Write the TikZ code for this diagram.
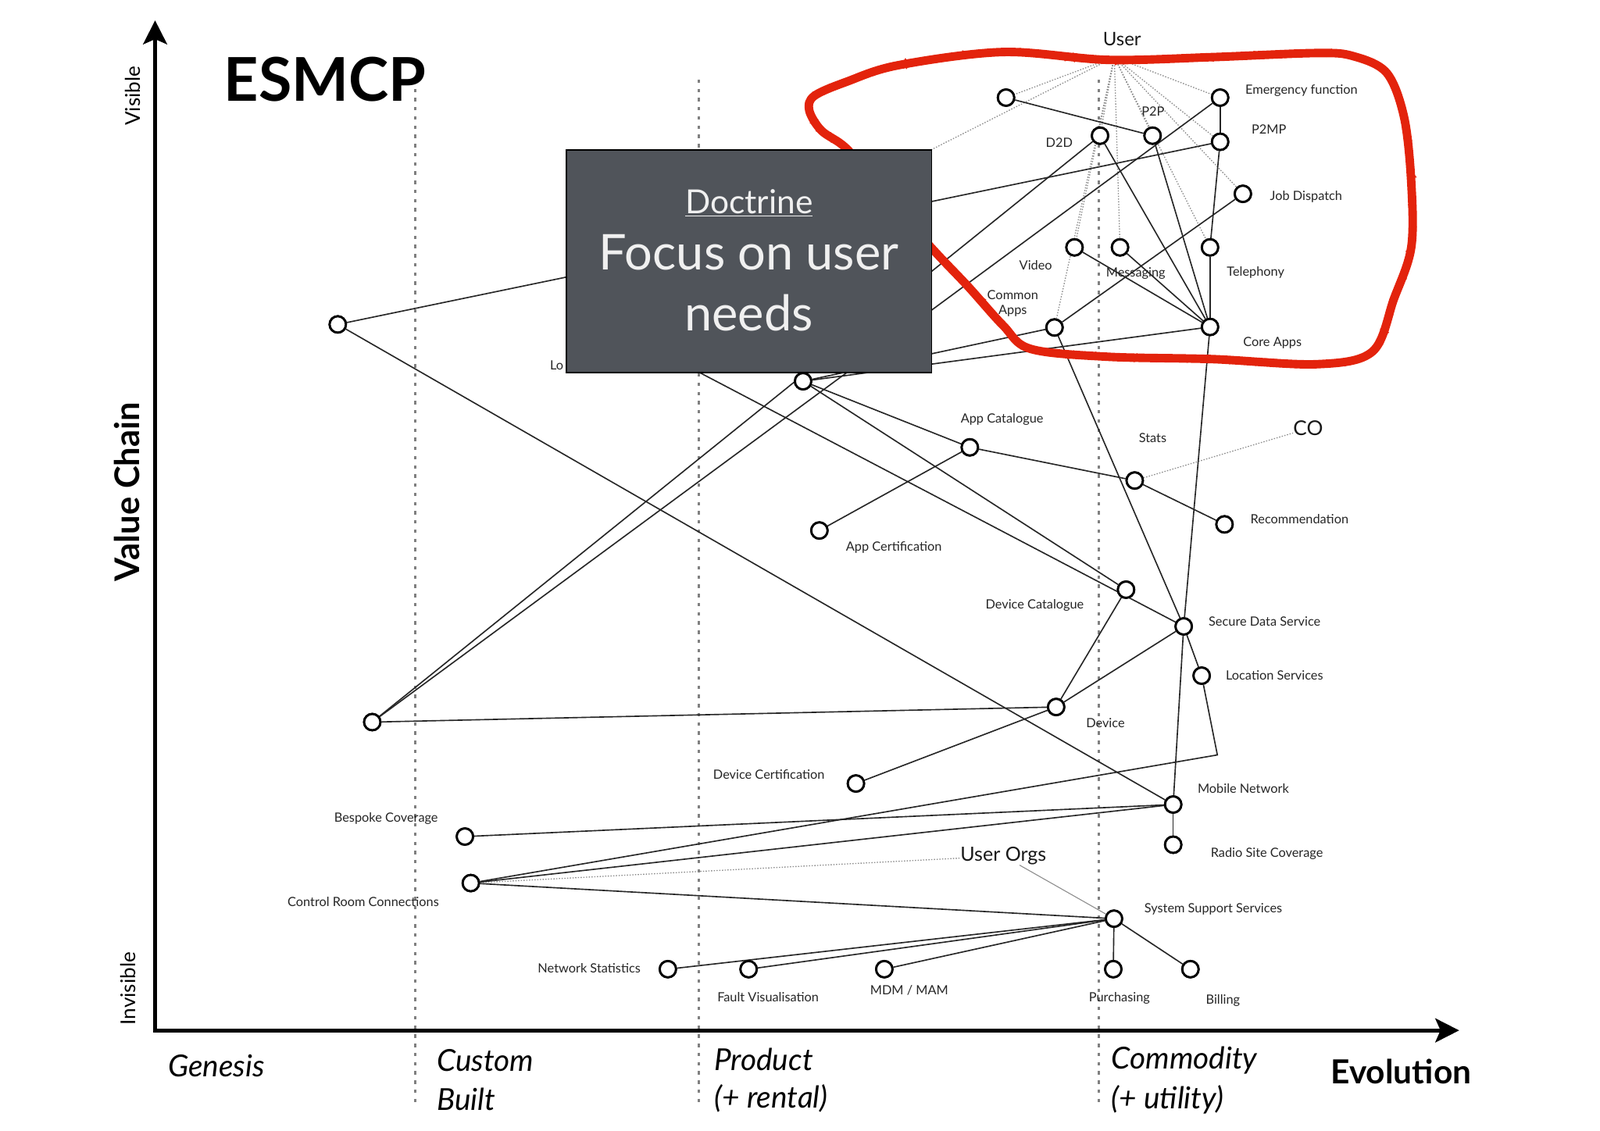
\documentclass[tikz,border=0pt]{standalone}
\usepackage{fontspec}
\setmainfont{Lato}
\usetikzlibrary{arrows.meta,decorations.pathmorphing}
\definecolor{boxgray}{HTML}{50545A}
\definecolor{loopred}{HTML}{E3230C}
\begin{document}
\begin{tikzpicture}[x=0.6pt,y=-0.6pt,
  dot/.style={circle,draw=black,line width=1.3pt,fill=white,minimum size=9.6pt,inner sep=0pt},
  edge/.style={draw=black!85,line width=0.75pt},
  udot/.style={draw=black!45,line width=0.6pt,dash pattern=on 0.7pt off 0.9pt},
  evo/.style={draw=black!50,line width=1.2pt,dash pattern=on 2pt off 3.4pt},
  lbl/.style={font=\fontsize{7.5}{8.5}\selectfont,text=black!85,inner sep=0pt},
  mid/.style={font=\fontsize{11.5}{13}\selectfont,text=black!90,inner sep=0pt},
  stage/.style={font=\fontsize{17.8}{19}\selectfont\itshape,text=black,inner sep=0pt,anchor=west},
  axislbl/.style={font=\fontsize{12}{14}\selectfont,text=black,inner sep=0pt,rotate=90},
  axisline/.style={line width=2.4pt,draw=black}
]
\useasboundingbox (0,0) rectangle (1568,1108);
% evolution stage separators
\draw[evo] (407,78) -- (407,1085);
\draw[evo] (685,78) -- (685,1085);
\draw[evo] (1077,78) -- (1077,1085);
% axes
\coordinate (origin) at (152,1010);
\coordinate (ytip) at (152,20);
\coordinate (xtip) at (1430,1010);
\draw[axisline,{Stealth[length=14pt,width=14pt,inset=3pt]}-{Stealth[length=14pt,width=14pt,inset=3pt]}] (ytip) -- (origin) -- (xtip);
\node[axislbl] (visible) at (130,94) {Visible};
\node[axislbl,font=\fontsize{20}{22}\selectfont\bfseries] (vchain) at (124.4,482) {Value Chain};
\node[axislbl] (invisible) at (125.4,969) {Invisible};
\node[inner sep=0pt,font=\fontsize{35.5}{38}\selectfont\bfseries] (title) at (318.5,78) {ESMCP};
\node[inner sep=0pt,font=\fontsize{19.5}{21}\selectfont\bfseries] (evolution) at (1373,1050) {Evolution};
\node[stage,anchor=center] (genesis) at (212,1045) {Genesis};
\node[stage] (custom) at (428,1039.5) {Custom};
\node[stage] (built) at (428,1077.6) {Built};
\node[stage] (product) at (699.6,1038.8) {Product};
\node[stage] (rental) at (700,1077) {(+ rental)};
\node[stage] (commodity) at (1089,1039) {Commodity};
\node[stage] (utility) at (1089,1078) {(+ utility)};

% components
\node[dot] (n1) at (985.9,95.7) {};
\node[dot] (emerg) at (1195.7,95.7) {};
\node[dot] (d2d) at (1078,133) {};
\node[dot] (p2p) at (1129.5,133) {};
\node[dot] (p2mp) at (1195.7,139) {};
\node[dot] (jobd) at (1218,190) {};
\node[dot] (video) at (1053,242.5) {};
\node[dot] (msg) at (1097.6,242.5) {};
\node[dot] (tel) at (1185.8,242.5) {};
\node[dot] (capps) at (1033.4,321) {};
\node[dot] (core) at (1185.8,320.5) {};
\node[dot] (nA) at (331,318) {};
\node[dot] (ubox) at (787,373.7) {};
\node[dot] (appcat) at (950.4,438.5) {};
\node[dot] (stats) at (1112,471) {};
\node[dot] (recom) at (1200,514) {};
\node[dot] (appcert) at (803,520) {};
\node[dot] (devcat) at (1103.5,578) {};
\node[dot] (sds) at (1160,614) {};
\node[dot] (locs) at (1177.6,662.3) {};
\node[dot] (device) at (1035,693) {};
\node[dot] (nB) at (364.8,707.8) {};
\node[dot] (devcert) at (838.8,768) {};
\node[dot] (mobnet) at (1149.7,788.6) {};
\node[dot] (radio) at (1149.7,828) {};
\node[dot] (bespoke) at (455.6,820) {};
\node[dot] (crc) at (461.4,865.6) {};
\node[dot] (sss) at (1091.7,900.5) {};
\node[dot] (netstat) at (654.5,950) {};
\node[dot] (faultvis) at (733.6,950) {};
\node[dot] (mdm) at (866.6,950) {};
\node[dot] (purch) at (1091,950) {};
\node[dot] (billing) at (1166.6,950) {};
\coordinate (lohid) at (670,357);
\coordinate (boxhid) at (760,224);
\coordinate (bend) at (1193,740);
\coordinate (uo) at (1092,56);

\node[inner sep=0pt,font=\fontsize{11}{12}\selectfont,text=black!90] (user) at (1099.6,38) {User};
\node[mid] (userorgs) at (983.3,839) {User Orgs};
\node[mid,font=\fontsize{12}{13}\selectfont] (co) at (1282,420) {CO};

% user needs (dotted)
\foreach \t in {n1,boxhid,d2d,video,capps,msg,p2p,tel,emerg,p2mp,jobd}
  \draw[udot] (uo) -- (\t);
\draw[udot] (stats) -- (co);
\draw[udot] (crc) -- (userorgs);
\draw[draw=black!45,line width=0.5pt] (userorgs) -- (sss);

% solid dependencies
\draw[edge] (n1) -- (p2p);
\draw[edge] (emerg) -- (p2mp);
\draw[edge] (p2mp) -- (tel);
\draw[edge] (tel) -- (core);
\draw[edge] (p2mp) -- (nA);
\draw[edge] (d2d) -- (nB);
\draw[edge] (emerg) -- (nB);
\draw[edge] (d2d) -- (core);
\draw[edge] (p2p) -- (core);
\draw[edge] (video) -- (core);
\draw[edge] (msg) -- (core);
\draw[edge] (jobd) -- (capps);
\draw[edge] (capps) -- (ubox);
\draw[edge] (core) -- (ubox);
\draw[edge] (capps) -- (sds);
\draw[edge] (core) -- (sds);
\draw[edge] (sds) -- (mobnet);
\draw[edge] (ubox) -- (appcat);
\draw[edge] (ubox) -- (devcat);
\draw[edge] (lohid) -- (sds);
\draw[edge] (appcat) -- (stats);
\draw[edge] (stats) -- (recom);
\draw[edge] (appcat) -- (appcert);
\draw[edge] (nA) -- (mobnet);
\draw[edge] (devcat) -- (device);
\draw[edge] (sds) -- (device);
\draw[edge] (sds) -- (locs);
\draw[edge] (locs) -- (bend) -- (crc);
\draw[edge] (device) -- (nB);
\draw[edge] (device) -- (devcert);
\draw[edge] (mobnet) -- (radio);
\draw[edge] (mobnet) -- (bespoke);
\draw[edge] (mobnet) -- (crc);
\draw[edge] (crc) -- (sss);
\draw[edge] (sss) -- (netstat);
\draw[edge] (sss) -- (faultvis);
\draw[edge] (sss) -- (mdm);
\draw[edge] (sss) -- (purch);
\draw[edge] (sss) -- (billing);

% redraw circles on top of lines
\foreach \n in {n1,emerg,d2d,p2p,p2mp,jobd,video,msg,tel,capps,core,nA,ubox,appcat,stats,recom,appcert,devcat,sds,locs,device,nB,devcert,mobnet,radio,bespoke,crc,sss,netstat,faultvis,mdm,purch,billing}
  \node[dot] at (\n.center) {};

% labels
\node[lbl] (l-emerg) at (1275.5,89) {Emergency function};
\node[lbl] (l-p2p) at (1130,109) {P2P};
\node[lbl] (l-p2mp) at (1243.5,127) {P2MP};
\node[lbl] (l-d2d) at (1038,140) {D2D};
\node[lbl] (l-jobd) at (1280,193) {Job Dispatch};
\node[lbl] (l-video) at (1015,260) {Video};
\node[lbl] (l-msg) at (1113,268) {Messaging};
\node[lbl] (l-tel) at (1230.5,267.5) {Telephony};
\node[lbl,align=center] (l-capps) at (992.5,297.5) {Common\\Apps};
\node[lbl] (l-core) at (1247,336) {Core Apps};
\node[lbl] (l-appcat) at (982,411) {App Catalogue};
\node[lbl] (l-stats) at (1129.6,429) {Stats};
\node[lbl] (l-recom) at (1273.5,509) {Recommendation};
\node[lbl] (l-appcert) at (876,537) {App Certification};
\node[lbl] (l-devcat) at (1014,593) {Device Catalogue};
\node[lbl] (l-sds) at (1239.3,609.5) {Secure Data Service};
\node[lbl] (l-locs) at (1249,661.6) {Location Services};
\node[lbl] (l-device) at (1083.3,709) {Device};
\node[lbl] (l-devcert) at (753.5,759) {Device Certification};
\node[lbl] (l-mobnet) at (1218.4,773) {Mobile Network};
\node[lbl] (l-radio) at (1241.5,837) {Radio Site Coverage};
\node[lbl] (l-sss) at (1189,891) {System Support Services};
\node[lbl] (l-bespoke) at (378.4,802) {Bespoke Coverage};
\node[lbl] (l-crc) at (356,884) {Control Room Connections};
\node[lbl] (l-netstat) at (577.4,948.7) {Network Statistics};
\node[lbl] (l-faultvis) at (752.7,977) {Fault Visualisation};
\node[lbl] (l-mdm) at (891,971) {MDM / MAM};
\node[lbl] (l-purch) at (1097,978.7) {Purchasing};
\node[lbl] (l-billing) at (1198.5,981) {Billing};
\node[lbl,anchor=west] (l-lo) at (538.7,358) {Lo};

% red loop around user needs
\draw[loopred,line width=5pt,line join=round]
  plot[smooth cycle,tension=0.55] coordinates {
  (831,147) (805,128) (793,108) (798,94) (830,80) (880,64) (983,51) (1086,58.7)
  (1188,56) (1290,52) (1326,55) (1359,71.5) (1376,115) (1383,178.7) (1383,242.5)
  (1366,293) (1345,344.6) (1290.7,357) (1188,352) (1085.6,349.7) (1010,342)
  (983,319) (948.7,280.8) (914.7,245) (870,195)};
\draw[loopred,line width=2.5pt,decorate,decoration={random steps,segment length=2pt,amplitude=1.2pt}]
  plot[smooth cycle,tension=0.55] coordinates {
  (831,147) (805,128) (793,108) (798,94) (830,80) (880,64) (983,51) (1086,58.7)
  (1188,56) (1290,52) (1326,55) (1359,71.5) (1376,115) (1383,178.7) (1383,242.5)
  (1366,293) (1345,344.6) (1290.7,357) (1188,352) (1085.6,349.7) (1010,342)
  (983,319) (948.7,280.8) (914.7,245) (870,195)};

% doctrine box
\node[draw=black,line width=0.8pt,fill=boxgray,minimum width=214.8pt,minimum height=130.8pt,anchor=north west,inner sep=0pt,outer sep=0pt] (doctrine) at (555,147) {};
\node[inner sep=0pt,text=white!94!black,font=\fontsize{19.5}{21}\selectfont] (d-title) at (734,199) {\underline{Doctrine}};
\node[inner sep=0pt,text=white!94!black,font=\fontsize{29}{31}\selectfont] (d-line1) at (734,247.6) {Focus on user};
\node[inner sep=0pt,text=white!94!black,font=\fontsize{29}{31}\selectfont] (d-line2) at (734,306.5) {needs};
\end{tikzpicture}
\end{document}
